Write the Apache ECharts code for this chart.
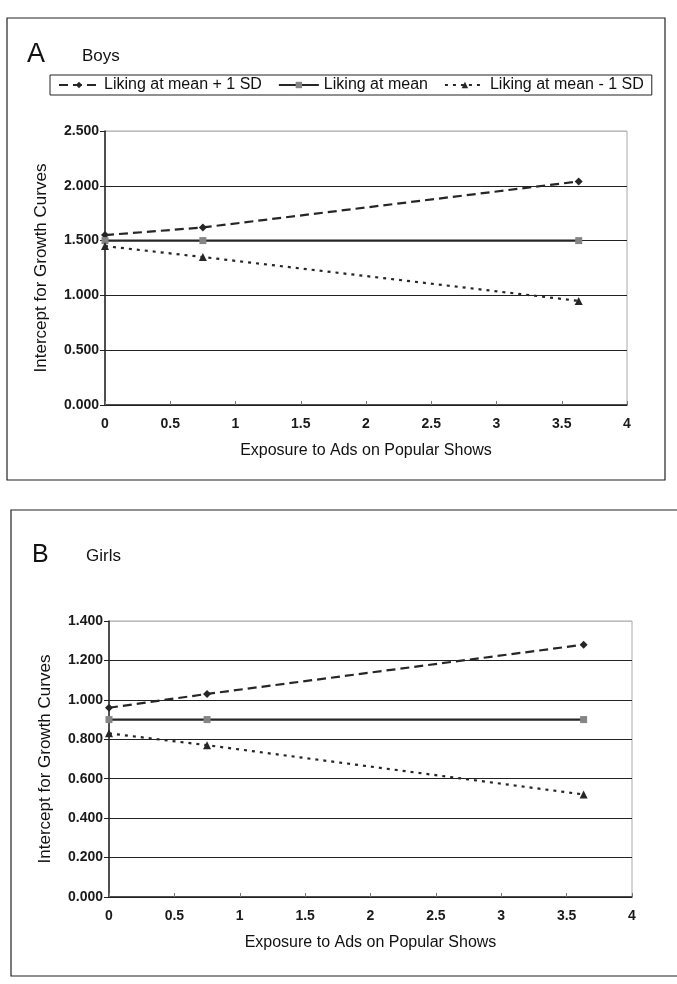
<!DOCTYPE html>
<html><head><meta charset="utf-8">
<script src="https://cdn.jsdelivr.net/npm/echarts@6/dist/echarts.min.js"></script>
<style>html,body{margin:0;padding:0;background:#fff}#c{width:677px;height:984px}</style>
</head><body><div id="c"></div>
<script>
// Data
const exposure = [0, 0.75, 3.63];
const seriesNames = ['Liking at mean + 1 SD', 'Liking at mean', 'Liking at mean - 1 SD'];
const boysPlus = [1.55, 1.62, 2.04];
const boysMean = [1.50, 1.50, 1.50];
const boysMinus = [1.45, 1.35, 0.95];
const girlsPlus = [0.96, 1.03, 1.28];
const girlsMean = [0.90, 0.90, 0.90];
const girlsMinus = [0.83, 0.77, 0.52];
const panelLetters = ['A', 'B'];
const panelTitles = ['Boys', 'Girls'];
const xAxisTitle = 'Exposure to Ads on Popular Shows';
const yAxisTitle = 'Intercept for Growth Curves';

const FONT = '"Liberation Sans", Arial, sans-serif';
const LINE = '#262626';

const styles = [
  {type: [9, 5], symbol: 'diamond', size: 8, markerColor: '#262626'},
  {type: 'solid', symbol: 'rect', size: 7, markerColor: '#858585'},
  {type: [3, 5], symbol: 'triangle', size: 8, markerColor: '#262626'}
];

function pairs(ys) { return exposure.map((x, i) => [x, ys[i]]); }

function mkSeries(name, idx, ys, axisIdx) {
  const s = styles[idx];
  return {
    name: name, type: 'line', xAxisIndex: axisIdx, yAxisIndex: axisIdx,
    data: pairs(ys), symbol: s.symbol, symbolSize: s.size, showSymbol: true,
    lineStyle: {color: LINE, width: 2.2, type: s.type},
    itemStyle: {color: s.markerColor},
    emphasis: {disabled: true}, animation: false
  };
}

function xAxisCfg(gi) {
  return {
    type: 'value', gridIndex: gi, min: 0, max: 4, interval: 0.5,
    name: xAxisTitle, nameLocation: 'middle', nameGap: 38,
    nameTextStyle: {fontFamily: FONT, fontSize: 16, color: '#111'},
    axisLine: {show: true, lineStyle: {color: '#222', width: 1.5}},
    axisTick: {show: true, inside: true, length: 4, lineStyle: {color: '#777'}},
    axisLabel: {fontFamily: FONT, fontSize: 14, fontWeight: 'bold', color: '#1a1a1a', margin: 12},
    splitLine: {show: false}
  };
}

function yAxisCfg(gi, max, interval, n) {
  const cols = [];
  for (let i = 0; i < n; i++) cols.push(i === n - 1 ? '#bbbbbb' : '#222');
  return {
    type: 'value', gridIndex: gi, min: 0, max: max, interval: interval,
    name: yAxisTitle, nameLocation: 'middle', nameGap: 55, nameRotate: 90,
    nameTextStyle: {fontFamily: FONT, fontSize: 17, color: '#111'},
    axisLine: {show: true, lineStyle: {color: '#222', width: 1.5}},
    axisTick: {show: true, inside: false, length: 5, lineStyle: {color: '#222'}},
    axisLabel: {fontFamily: FONT, fontSize: 14, fontWeight: 'bold', color: '#1a1a1a', margin: 6,
      formatter: v => v.toFixed(3)},
    splitLine: {show: true, lineStyle: {color: cols, width: 1.2}}
  };
}

const chart = echarts.init(document.getElementById('c'), null, {renderer: 'canvas'});
chart.setOption({
  backgroundColor: '#fff',
  animation: false,
  grid: [
    {left: 105, top: 131, width: 522, height: 274, show: true, borderColor: '#aaa', borderWidth: 1, backgroundColor: 'transparent'},
    {left: 109, top: 621, width: 523, height: 276, show: true, borderColor: '#aaa', borderWidth: 1, backgroundColor: 'transparent'}
  ],
  xAxis: [xAxisCfg(0), xAxisCfg(1)],
  yAxis: [yAxisCfg(0, 2.5, 0.5, 6), yAxisCfg(1, 1.4, 0.2, 8)],
  legend: {
    data: seriesNames, left: 50, top: 75, orient: 'horizontal',
    itemWidth: 40, itemHeight: 8, itemGap: 16, padding: [2, 8],
    borderColor: '#222', borderWidth: 1,
    textStyle: {fontFamily: FONT, fontSize: 16, color: '#111'},
    selectedMode: false
  },
  graphic: [
    {type: 'rect', shape: {x: 7, y: 18, width: 658, height: 462}, style: {fill: 'none', stroke: '#222', lineWidth: 1.2}, silent: true, z: -1},
    {type: 'rect', shape: {x: 11, y: 510, width: 700, height: 466}, style: {fill: 'none', stroke: '#222', lineWidth: 1.2}, silent: true, z: -1},
    {type: 'text', left: 27, top: 41, style: {text: panelLetters[0], font: '27px ' + FONT, fill: '#111'}},
    {type: 'text', left: 82, top: 48, style: {text: panelTitles[0], font: '17px ' + FONT, fill: '#111'}},
    {type: 'text', left: 32, top: 543, style: {text: panelLetters[1], font: '25px ' + FONT, fill: '#111'}},
    {type: 'text', left: 86, top: 548, style: {text: panelTitles[1], font: '17px ' + FONT, fill: '#111'}}
  ],
  series: [
    mkSeries(seriesNames[0], 0, boysPlus, 0),
    mkSeries(seriesNames[1], 1, boysMean, 0),
    mkSeries(seriesNames[2], 2, boysMinus, 0),
    mkSeries(seriesNames[0], 0, girlsPlus, 1),
    mkSeries(seriesNames[1], 1, girlsMean, 1),
    mkSeries(seriesNames[2], 2, girlsMinus, 1)
  ]
});
</script></body></html>
